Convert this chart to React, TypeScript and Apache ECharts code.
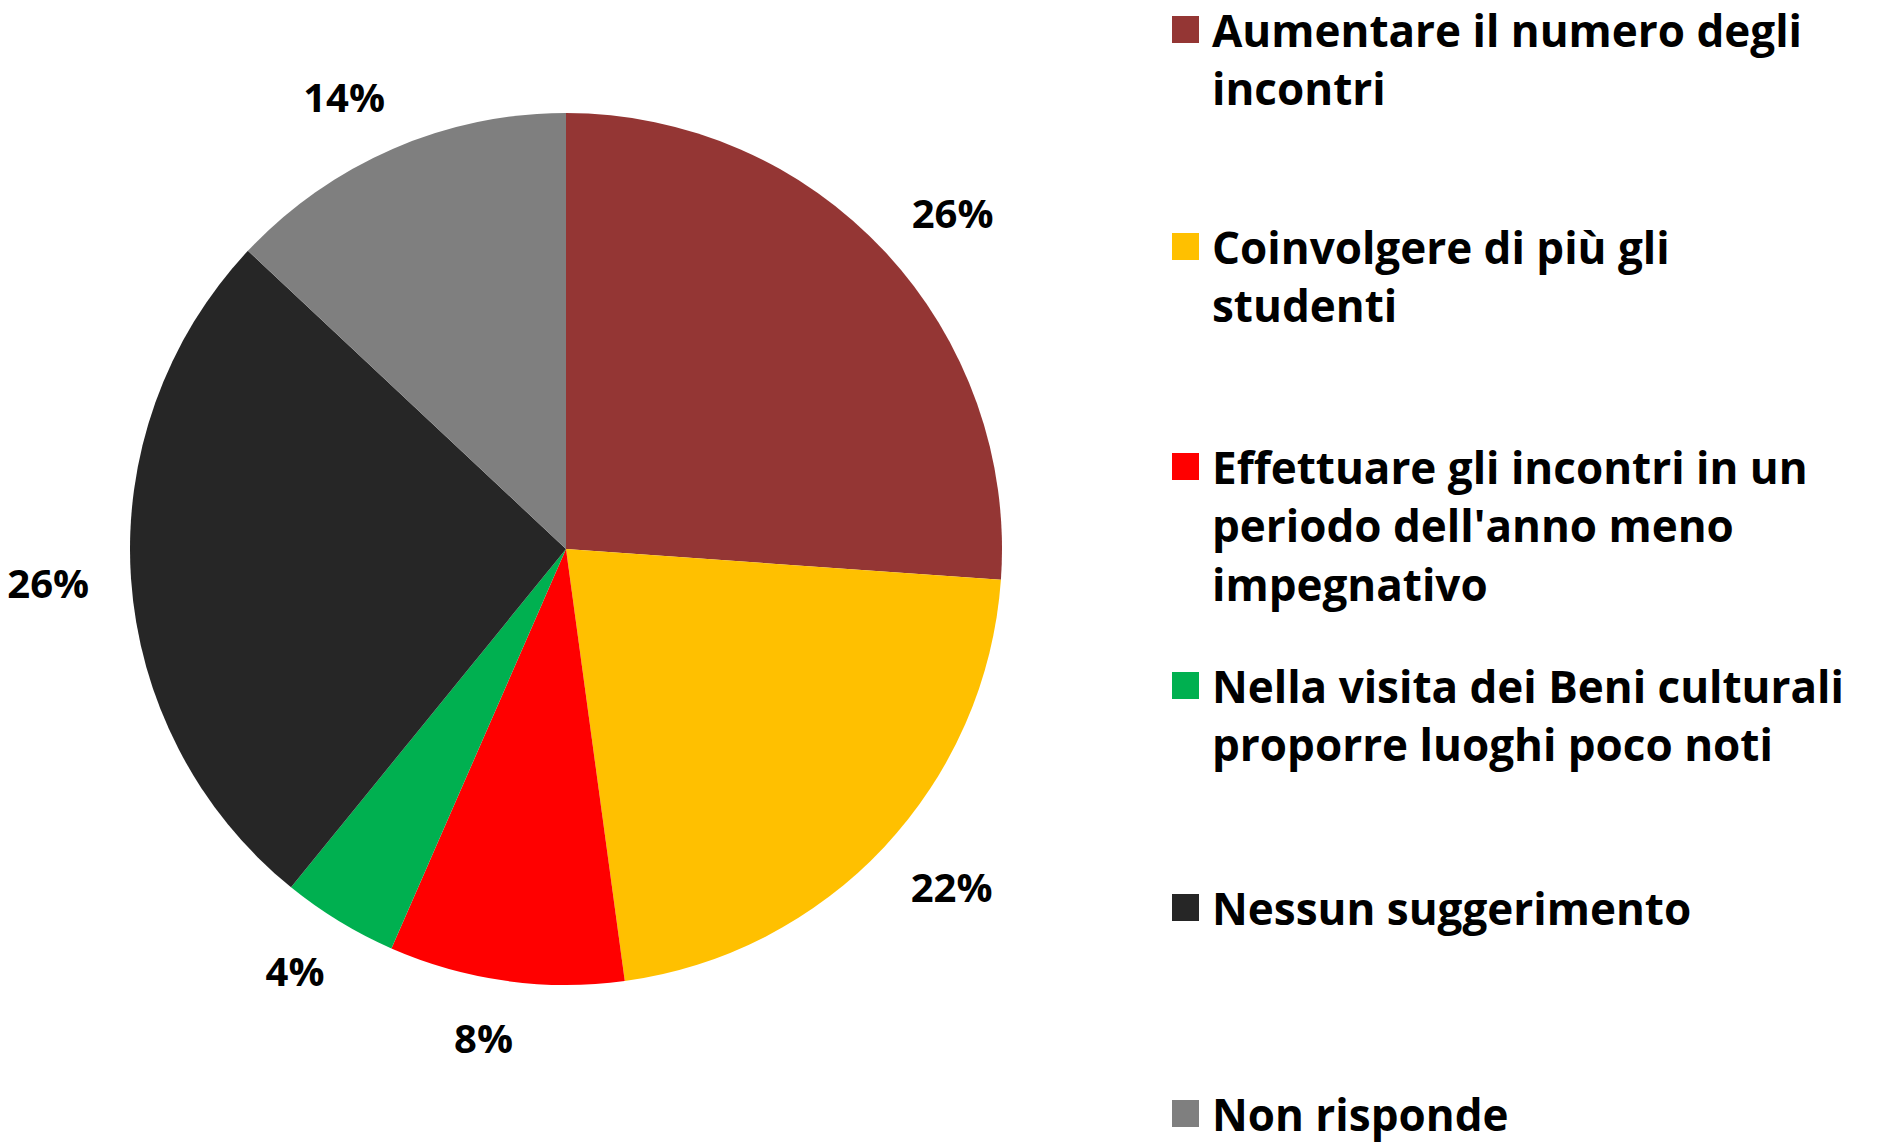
import React, { useEffect, useRef } from "react";
import * as echarts from "echarts";

const categories = [
  "Aumentare il numero degli incontri",
  "Coinvolgere di più gli studenti",
  "Effettuare gli incontri in un periodo dell'anno meno impegnativo",
  "Nella visita dei Beni culturali proporre luoghi poco noti",
  "Nessun suggerimento",
  "Non risponde",
];
const legendLines = [
  "Aumentare il numero degli\nincontri",
  "Coinvolgere di più gli\nstudenti",
  "Effettuare gli incontri in un\nperiodo dell'anno meno\nimpegnativo",
  "Nella visita dei Beni culturali\nproporre luoghi poco noti",
  "Nessun suggerimento",
  "Non risponde",
];
const values = [26.1, 21.7, 8.7, 4.3, 26.1, 13.0];
const pctLabels = ["26%", "22%", "8%", "4%", "26%", "14%"];
const colors = ["#943634", "#FFC000", "#FF0000", "#00B050", "#262626", "#7F7F7F"];

const FONT = "'Open Sans', sans-serif";
const LH = 58.5;
const SQ = 27;
const legendIconTops = [16, 233, 453, 672, 892, 1098];

export default function App() {
  const ref = useRef<HTMLDivElement>(null);
  useEffect(() => {
    document.body.style.margin = "0";
    if (!ref.current) return;
    const chart = echarts.init(ref.current, null, { renderer: "svg" });
    const legends = categories.map((name, i) => {
      const n = legendLines[i].split("\n").length;
      const single = n === 1;
      const h = single ? SQ : n * LH;
      const sq = single ? 0 : (LH - SQ) / 2;
      const icon = `path://M0,0L0.01,0 M0,${sq}L${SQ},${sq}L${SQ},${sq + SQ}L0,${sq + SQ}Z M35,${h}L34.99,${h}`;
      const lh = single ? 40 : LH;
      return {
        left: 1172,
        top: legendIconTops[i] - (single ? (lh - SQ) / 2 : sq),
        padding: 0,
        orient: "vertical",
        data: [name],
        selectedMode: false,
        icon,
        itemWidth: 35,
        itemHeight: h,
        formatter: () => legendLines[i],
        textStyle: {
          fontFamily: FONT,
          fontWeight: "bold",
          fontSize: 44,
          lineHeight: lh,
          color: "#000",
        },
      };
    });
    chart.setOption({
      animation: false,
      color: colors,
      legend: legends,
      series: [
        {
          type: "pie",
          center: [566, 549],
          radius: 436,
          startAngle: 90,
          clockwise: true,
          avoidLabelOverlap: false,
          itemStyle: { borderWidth: 0 },
          label: {
            show: true,
            position: "outside",
            formatter: (p: any) => pctLabels[p.dataIndex],
            fontFamily: FONT,
            fontWeight: "bold",
            fontSize: 40,
            color: "#000",
          },
          labelLine: { show: false, length: 57, length2: -20 },
          emphasis: { disabled: true },
          data: categories.map((name, i) => ({ name, value: values[i] })),
        },
      ],
    });
    return () => chart.dispose();
  }, []);
  return <div ref={ref} style={{ width: 1877, height: 1146 }} />;
}
